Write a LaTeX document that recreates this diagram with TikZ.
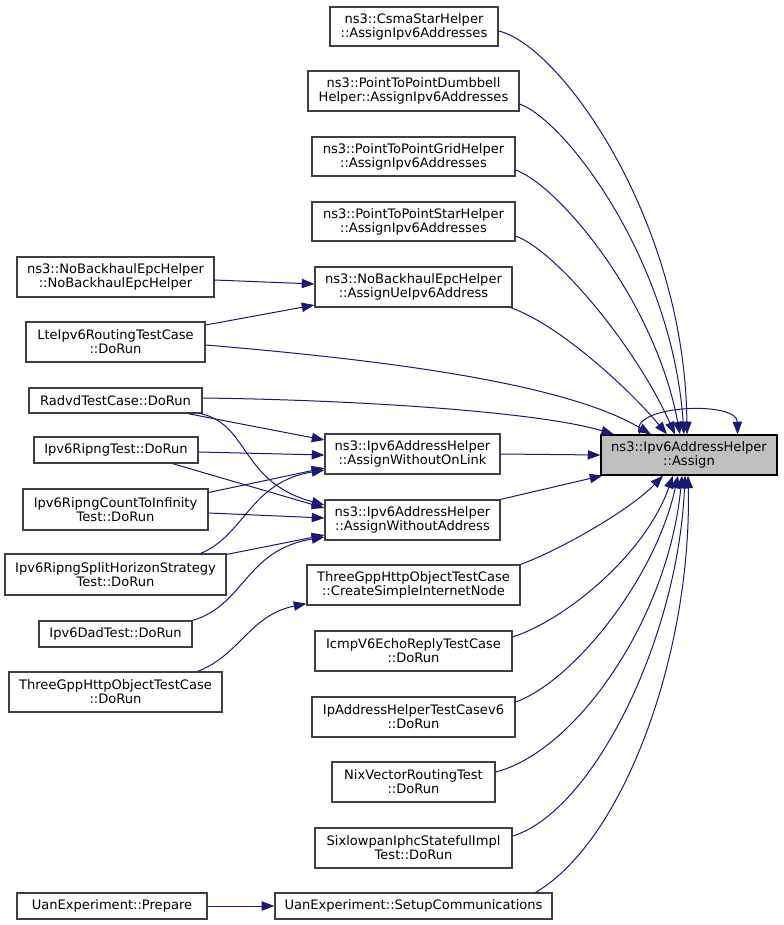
\documentclass[tikz,border=0pt]{standalone}
\usepackage{fontspec}
\setmainfont{DejaVu Sans}
\usetikzlibrary{calc,arrows.meta}
\definecolor{edgecol}{HTML}{191970}
\definecolor{bordercol}{HTML}{404040}
\definecolor{targetfill}{HTML}{BFBFBF}
\tikzset{
  box/.style={draw=bordercol, line width=0.9pt, fill=white, inner sep=0pt, align=center,
    font=\fontsize{9.8pt}{10.6pt}\selectfont},
  targetbox/.style={box, draw=black, fill=targetfill},
  edge/.style={draw=edgecol, line width=0.75pt, -{Triangle[length=9.5pt,width=7pt]}},
}
\newcommand\bnode[7][box]{\node[#1, minimum width={(#5-#3)*0.75pt}, minimum height={(#6-#4)*0.75pt}] (#2) at ({(#3+#5)/2},{(#4+#6)/2}) {#7};}
\begin{document}
\begin{tikzpicture}[x=0.75pt,y=-0.75pt]
\useasboundingbox (0,0) rectangle (783,925);
% target
\bnode[targetbox]{T}{601}{435}{777}{475}{ns3::Ipv6AddressHelper\\::Assign}
% middle column
\bnode{c1}{330}{7}{498}{46}{ns3::CsmaStarHelper\\::AssignIpv6Addresses}
\bnode{c2}{308}{71}{519}{111}{ns3::PointToPointDumbbell\\Helper::AssignIpv6Addresses}
\bnode{c3}{312}{137}{515}{176}{ns3::PointToPointGridHelper\\::AssignIpv6Addresses}
\bnode{c4}{312}{202}{515}{241}{ns3::PointToPointStarHelper\\::AssignIpv6Addresses}
\bnode{c5}{315}{267}{512}{307}{ns3::NoBackhaulEpcHelper\\::AssignUeIpv6Address}
\bnode{m1}{325}{434}{500}{474}{ns3::Ipv6AddressHelper\\::AssignWithoutOnLink}
\bnode{m2}{325}{500}{500}{540}{ns3::Ipv6AddressHelper\\::AssignWithoutAddress}
\bnode{m3}{307}{565}{520}{605}{ThreeGppHttpObjectTestCase\\::CreateSimpleInternetNode}
\bnode{m4}{315}{631}{512}{671}{IcmpV6EchoReplyTestCase\\::DoRun}
\bnode{m5}{312}{697}{515}{737}{IpAddressHelperTestCasev6\\::DoRun}
\bnode{m6}{332}{762}{495}{802}{NixVectorRoutingTest\\::DoRun}
\bnode{m7}{315}{828}{512}{868}{SixlowpanIphcStatefulImpl\\Test::DoRun}
\bnode{m8}{275}{893}{552}{919}{UanExperiment::SetupCommunications}
% left column
\bnode{n1}{17}{257}{214}{297}{ns3::NoBackhaulEpcHelper\\::NoBackhaulEpcHelper}
\bnode{n2}{26}{322}{205}{362}{LteIpv6RoutingTestCase\\::DoRun}
\bnode{n3}{29}{388}{202}{413}{RadvdTestCase::DoRun}
\bnode{n4}{34}{437}{198}{463}{Ipv6RipngTest::DoRun}
\bnode{n5}{23}{489}{208}{530}{Ipv6RipngCountToInfinity\\Test::DoRun}
\bnode{n6}{5}{554}{226}{595}{Ipv6RipngSplitHorizonStrategy\\Test::DoRun}
\bnode{n7}{39}{621}{192}{647}{Ipv6DadTest::DoRun}
\bnode{n8}{9}{672}{222}{712}{ThreeGppHttpObjectTestCase\\::DoRun}
\bnode{p1}{17}{893}{207}{919}{UanExperiment::Prepare}

% edges into T from above
\draw[edge] ($(c1.east)+(0,4.5)$) .. controls (560,45) and (685,220) .. ($(T.north)+(-2,0)$);
\draw[edge] ($(c2.east)+(0,13)$) .. controls (565,120) and (672,260) .. ($(T.north)+(-5,0)$);
\draw[edge] ($(c3.east)+(0,13.5)$) .. controls (558,185) and (655,300) .. ($(T.north)+(-9,0)$);
\draw[edge] ($(c4.east)+(0,14.5)$) .. controls (555,250) and (635,345) .. ($(T.north)+(-14,0)$);
\draw[edge] ($(c5.south east)+(-2,0)$) .. controls (560,325) and (630,390) .. ($(T.north)+(-22,0)$);
\draw[edge] ($(n2.east)+(0,3)$) .. controls (360,358) and (560,380) .. ($(T.north)+(-38,0)$);
\draw[edge] ($(n3.east)+(0,-2.5)$) .. controls (360,400) and (540,412) .. ($(T.north)+(-75,0)$);
% self loop
\draw[edge] ($(T.north)+(-49,0)$) .. controls (625,405) and (737,400) .. ($(T.north east)+(-40,0)$);
% side edges
\draw[edge] (m1.east) -- (T.west);
\draw[edge] (m2.north east) -- ($(T.south west)+(2,0)$);
% edges into T from below
\draw[edge] (m3.north east) .. controls (560,550) and (630,510) .. ($(T.south)+(-26,0)$);
\draw[edge] ($(m4.east)+(0,-14)$) .. controls (565,620) and (645,555) .. ($(T.south)+(-16,0)$);
\draw[edge] ($(m5.east)+(0,-15)$) .. controls (572,682) and (655,580) .. ($(T.south)+(-11,0)$);
\draw[edge] ($(m6.east)+(0,-10)$) .. controls (575,752) and (668,620) .. ($(T.south)+(-7,0)$);
\draw[edge] ($(m7.east)+(0,-12)$) .. controls (592,812) and (678,640) .. ($(T.south)+(-4,0)$);
\draw[edge] ($(m8.north east)+(-17,0)$) .. controls (625,840) and (692,650) .. ($(T.south)+(-1,0)$);
% left edges
\draw[edge] ($(n1.east)+(0,3)$) -- ($(c5.west)+(0,-3)$);
\draw[edge] ($(n2.east)+(0,-17)$) -- ($(c5.west)+(0,18)$);
\draw[edge] ($(n3.south east)+(-15,0)$) -- ($(m1.west)+(0,-14)$);
\draw[edge] ($(n3.south east)+(-2,0)$) .. controls (250,425) and (240,482) .. ($(m2.west)+(0,-15)$);
\draw[edge] ($(n4.east)+(0,2)$) -- ($(m1.west)+(0,1)$);
\draw[edge] ($(n4.south east)+(-26,0)$) -- ($(m2.west)+(0,-12)$);
\draw[edge] ($(n5.east)+(0,-17)$) -- ($(m1.west)+(0,14)$);
\draw[edge] ($(n5.east)+(0,3.5)$) -- ($(m2.west)+(0,-2)$);
\draw[edge] ($(n6.north east)+(-26,0)$) .. controls (245,535) and (250,482) .. ($(m1.west)+(0,16)$);
\draw[edge] ($(n6.north east)+(0,1)$) -- ($(m2.west)+(0,15)$);
\draw[edge] (n7.north east) .. controls (245,605) and (245,550) .. ($(m2.west)+(0,17)$);
\draw[edge] ($(n8.north east)+(-25,0)$) .. controls (240,655) and (250,615) .. ($(m3.south west)+(0,-2)$);
\draw[edge] (p1.east) -- (m8.west);
\end{tikzpicture}
\end{document}
